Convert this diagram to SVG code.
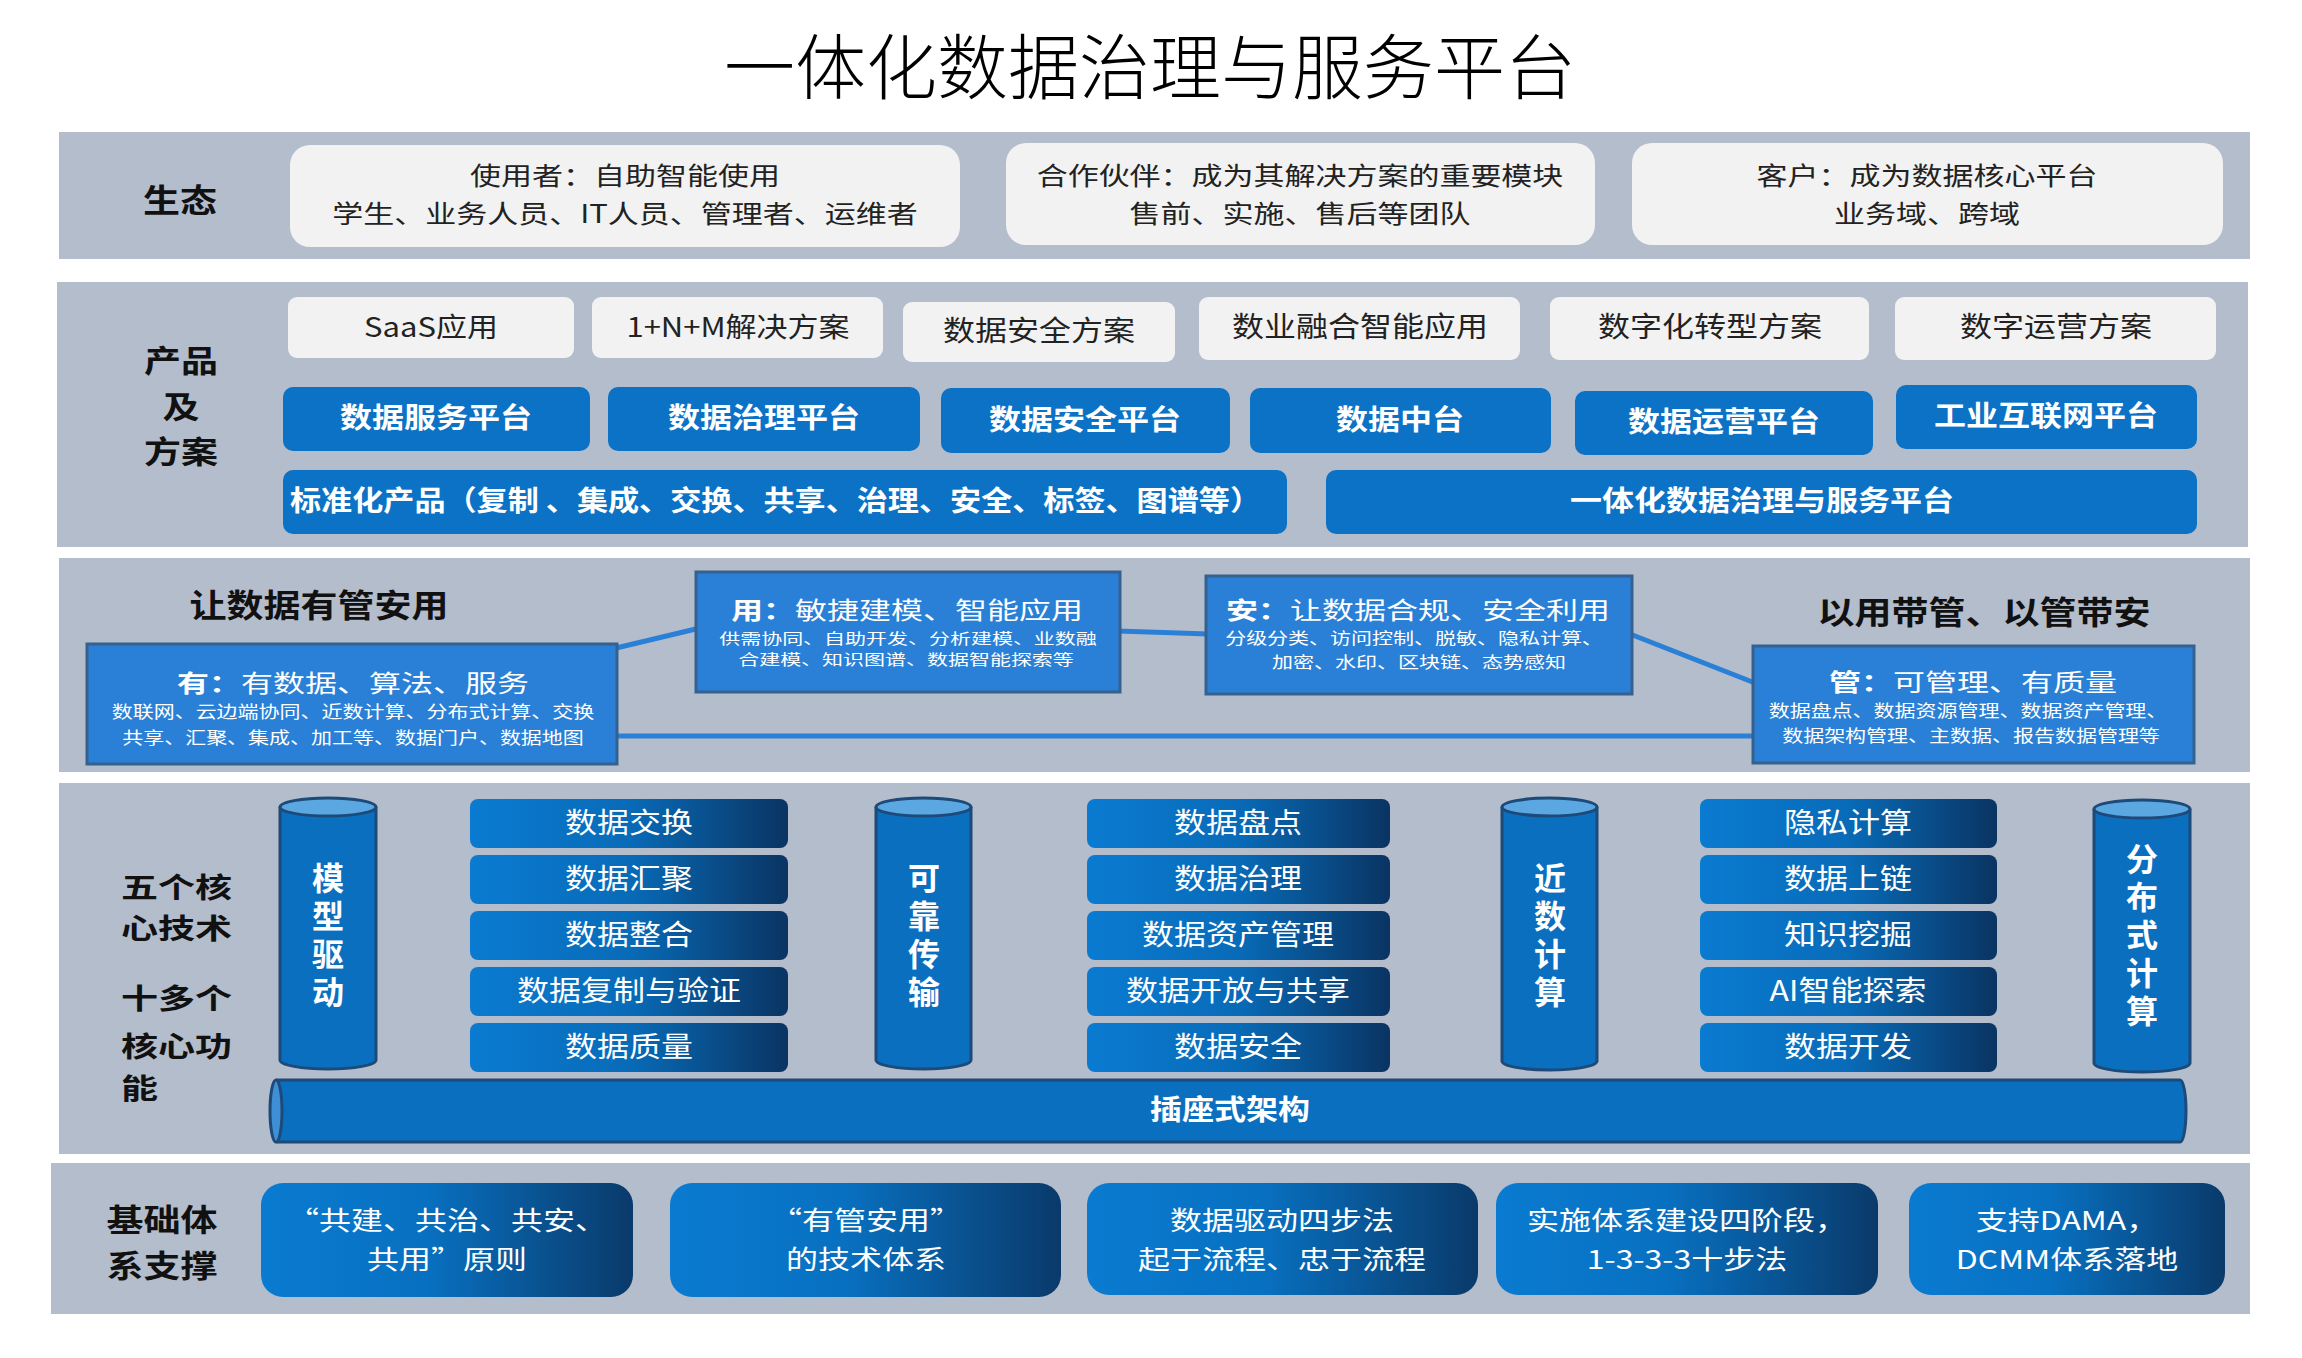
<svg xmlns="http://www.w3.org/2000/svg" width="2302" height="1358" viewBox="0 0 2302 1358">
<defs>
<style>
text{font-family:"Noto Sans CJK SC","Noto Sans",sans-serif;}
.band{fill:#b4bdcc}
.wbox{fill:#f2f2f2}
.bbox{fill:#0b72c6}
.sbox{fill:#2a80d6;stroke:#34618f;stroke-width:3}
.gbox{fill:url(#g1)}
.gbox2{fill:url(#g2)}
.c{text-anchor:middle;dominant-baseline:central}
.lab{font-size:37px;font-weight:700;fill:#111}
.dk{fill:#222}
.wh{fill:#fff}
.conn{stroke:#2a80d6;stroke-width:5;fill:none}
.cyl{fill:#0b6fc0;stroke:#1d4a78;stroke-width:3}
.cyltop{fill:#5aa7e2;stroke:#1d4a78;stroke-width:3}
.vt{writing-mode:vertical-rl;text-anchor:middle;font-size:32px;font-weight:700;fill:#fff;letter-spacing:6px}
.t31{font-size:31px}
.t32{font-size:32px}
.t21{font-size:21px}
.b{font-weight:700}
</style>
<linearGradient id="g1" x1="0" y1="0" x2="1" y2="0">
<stop offset="0" stop-color="#0a7bd1"/>
<stop offset="0.5" stop-color="#086bb8"/>
<stop offset="1" stop-color="#0a3462"/>
</linearGradient>
<linearGradient id="g2" x1="0" y1="0" x2="1" y2="0">
<stop offset="0" stop-color="#0a7bd1"/>
<stop offset="0.45" stop-color="#0870c0"/>
<stop offset="1" stop-color="#0a3a6a"/>
</linearGradient>
</defs>
<rect width="2302" height="1358" fill="#ffffff"/>

<text id="title" x="1150" y="62" class="c" style="font-size:71px;font-weight:300;fill:#000">一体化数据治理与服务平台</text>

<!-- bands -->
<rect class="band" x="59" y="132" width="2191" height="127"/>
<rect class="band" x="57" y="282" width="2191" height="265"/>
<rect class="band" x="59" y="558" width="2191" height="214"/>
<rect class="band" x="59" y="783" width="2191" height="371"/>
<rect class="band" x="51" y="1163" width="2199" height="151"/>

<!-- ecosystem -->
<g id="label-ecosystem"><text transform="translate(180,198) scale(1,0.85)" class="c lab">生态</text></g>
<g id="eco-user">
<rect class="wbox" x="290" y="145" width="670" height="102" rx="20"/>
<text transform="translate(625,174) scale(1,0.82)" class="c t31 dk">使用者：自助智能使用</text>
<text transform="translate(625,212) scale(1,0.82)" class="c t31 dk">学生、业务人员、IT人员、管理者、运维者</text>
</g>
<g id="eco-partner">
<rect class="wbox" x="1006" y="143" width="589" height="102" rx="20"/>
<text transform="translate(1300,174) scale(1,0.82)" class="c t31 dk">合作伙伴：成为其解决方案的重要模块</text>
<text transform="translate(1300,212) scale(1,0.82)" class="c t31 dk">售前、实施、售后等团队</text>
</g>
<g id="eco-customer">
<rect class="wbox" x="1632" y="143" width="591" height="102" rx="20"/>
<text transform="translate(1927,174) scale(1,0.82)" class="c t31 dk">客户：成为数据核心平台</text>
<text transform="translate(1927,212) scale(1,0.82)" class="c t31 dk">业务域、跨域</text>
</g>

<!-- products -->
<g id="label-products">
<text transform="translate(181,359) scale(1,0.82)" class="c lab">产品</text>
<text transform="translate(181,405) scale(1,0.82)" class="c lab">及</text>
<text transform="translate(181,450) scale(1,0.82)" class="c lab">方案</text>
</g>
<g id="p-saas"><rect class="wbox" x="288" y="297" width="286" height="61" rx="9"/><text transform="translate(431,325) scale(1,0.88)" class="c t31 dk">SaaS应用</text></g>
<g id="p-1nm"><rect class="wbox" x="592" y="297" width="291" height="61" rx="9"/><text transform="translate(738,325) scale(1,0.88)" class="c t31 dk">1+N+M解决方案</text></g>
<g id="p-sec"><rect class="wbox" x="903" y="302" width="272" height="60" rx="9"/><text transform="translate(1039,329) scale(1,0.88)" class="c t32 dk">数据安全方案</text></g>
<g id="p-fusion"><rect class="wbox" x="1199" y="297" width="321" height="63" rx="9"/><text transform="translate(1360,325) scale(1,0.88)" class="c t32 dk">数业融合智能应用</text></g>
<g id="p-digital"><rect class="wbox" x="1550" y="297" width="319" height="63" rx="9"/><text transform="translate(1710,325) scale(1,0.88)" class="c t32 dk">数字化转型方案</text></g>
<g id="p-ops"><rect class="wbox" x="1895" y="297" width="321" height="63" rx="9"/><text transform="translate(2056,325) scale(1,0.88)" class="c t32 dk">数字运营方案</text></g>

<g id="pf-service"><rect class="bbox" x="283" y="387" width="307" height="64" rx="10"/><text transform="translate(436,416) scale(1,0.88)" class="c t32 b wh">数据服务平台</text></g>
<g id="pf-govern"><rect class="bbox" x="608" y="387" width="312" height="64" rx="10"/><text transform="translate(764,416) scale(1,0.88)" class="c t32 b wh">数据治理平台</text></g>
<g id="pf-security"><rect class="bbox" x="941" y="388" width="289" height="65" rx="10"/><text transform="translate(1085,418) scale(1,0.88)" class="c t32 b wh">数据安全平台</text></g>
<g id="pf-middle"><rect class="bbox" x="1250" y="388" width="301" height="65" rx="10"/><text transform="translate(1400,418) scale(1,0.88)" class="c t32 b wh">数据中台</text></g>
<g id="pf-operate"><rect class="bbox" x="1575" y="391" width="298" height="64" rx="10"/><text transform="translate(1724,420) scale(1,0.88)" class="c t32 b wh">数据运营平台</text></g>
<g id="pf-iiot"><rect class="bbox" x="1896" y="385" width="301" height="64" rx="10"/><text transform="translate(2046,414) scale(1,0.88)" class="c t32 b wh">工业互联网平台</text></g>

<g id="pf-standard"><rect class="bbox" x="283" y="470" width="1004" height="64" rx="10"/><text transform="translate(290,499) scale(1,0.88)" class="t32 b wh" style="dominant-baseline:central" textLength="971" lengthAdjust="spacingAndGlyphs">标准化产品（复制 、集成、交换、共享、治理、安全、标签、图谱等）</text></g>
<g id="pf-integrated"><rect class="bbox" x="1326" y="470" width="871" height="64" rx="10"/><text transform="translate(1762,499) scale(1,0.88)" class="c t32 b wh">一体化数据治理与服务平台</text></g>

<!-- section 3 -->
<g id="label-slogan1"><text transform="translate(319,603) scale(1,0.85)" class="c lab">让数据有管安用</text></g>
<g id="label-slogan2"><text transform="translate(1984,610) scale(1,0.85)" class="c lab">以用带管、以管带安</text></g>

<g id="connectors">
<line class="conn" x1="612" y1="649" x2="700" y2="628"/>
<line class="conn" x1="1118" y1="631" x2="1208" y2="634"/>
<line class="conn" x1="1630" y1="634" x2="1755" y2="683"/>
<line class="conn" x1="615" y1="736" x2="1755" y2="736"/>
</g>

<g id="n-you">
<rect class="sbox" x="87" y="644" width="530" height="120"/>
<text transform="translate(353,681) scale(1,0.75)" class="c t32 wh"><tspan class="b">有：</tspan>有数据、算法、服务</text>
<text transform="translate(353,710) scale(1,0.8)" class="c t21 wh">数联网、云边端协同、近数计算、分布式计算、交换</text>
<text transform="translate(353,736) scale(1,0.8)" class="c t21 wh">共享、汇聚、集成、加工等、数据门户、数据地图</text>
</g>
<g id="n-yong">
<rect class="sbox" x="696" y="572" width="424" height="120"/>
<text transform="translate(907,608) scale(1,0.75)" class="c t32 wh"><tspan class="b">用：</tspan>敏捷建模、智能应用</text>
<text transform="translate(908,638) scale(1,0.68)" class="c t21 wh">供需协同、自助开发、分析建模、业数融</text>
<text transform="translate(906,659) scale(1,0.68)" class="c t21 wh">合建模、知识图谱、数据智能探索等</text>
</g>
<g id="n-an">
<rect class="sbox" x="1206" y="576" width="426" height="118"/>
<text transform="translate(1418,608) scale(1,0.75)" class="c t32 wh"><tspan class="b">安：</tspan>让数据合规、安全利用</text>
<text transform="translate(1414,637) scale(1,0.75)" class="c t21 wh">分级分类、访问控制、脱敏、隐私计算、</text>
<text transform="translate(1419,661) scale(1,0.75)" class="c t21 wh">加密、水印、区块链、态势感知</text>
</g>
<g id="n-guan">
<rect class="sbox" x="1753" y="646" width="441" height="117"/>
<text transform="translate(1973,680) scale(1,0.75)" class="c t32 wh"><tspan class="b">管：</tspan>可管理、有质量</text>
<text transform="translate(1968,709) scale(1,0.8)" class="c t21 wh">数据盘点、数据资源管理、数据资产管理、</text>
<text transform="translate(1971,734) scale(1,0.8)" class="c t21 wh">数据架构管理、主数据、报告数据管理等</text>
</g>

<!-- section 4 -->
<g id="label-core">
<text transform="translate(121,886) scale(1,0.76)" class="lab" style="dominant-baseline:central">五个核</text>
<text transform="translate(121,927) scale(1,0.76)" class="lab" style="dominant-baseline:central">心技术</text>
<text transform="translate(121,997) scale(1,0.76)" class="lab" style="dominant-baseline:central">十多个</text>
<text transform="translate(121,1045) scale(1,0.76)" class="lab" style="dominant-baseline:central">核心功</text>
<text transform="translate(121,1087) scale(1,0.76)" class="lab" style="dominant-baseline:central">能</text>
</g>

<g id="cyl-model">
<path class="cyl" d="M280,807 V1060 A48,9 0 0 0 376,1060 V807"/>
<ellipse class="cyltop" cx="328" cy="807" rx="48" ry="9"/>
<text x="328" y="938" class="vt">模型驱动</text>
</g>
<g id="cyl-reliable">
<path class="cyl" d="M876,807 V1060 A47.5,9 0 0 0 971,1060 V807"/>
<ellipse class="cyltop" cx="923.5" cy="807" rx="47.5" ry="9"/>
<text x="924" y="938" class="vt">可靠传输</text>
</g>
<g id="cyl-near">
<path class="cyl" d="M1502,807 V1061 A47.5,9 0 0 0 1597,1061 V807"/>
<ellipse class="cyltop" cx="1549.5" cy="807" rx="47.5" ry="9"/>
<text x="1550" y="938" class="vt">近数计算</text>
</g>
<g id="cyl-dist">
<path class="cyl" d="M2094,809 V1063 A48,9 0 0 0 2190,1063 V809"/>
<ellipse class="cyltop" cx="2142" cy="809" rx="48" ry="9"/>
<text x="2142" y="938" class="vt">分布式计算</text>
</g>

<g id="f-exchange"><rect class="gbox" x="470" y="799" width="318" height="49" rx="8"/><text transform="translate(629,820.5) scale(1,0.88)" class="c t32 wh">数据交换</text></g>
<g id="f-aggregate"><rect class="gbox" x="470" y="855" width="318" height="49" rx="8"/><text transform="translate(629,876.5) scale(1,0.88)" class="c t32 wh">数据汇聚</text></g>
<g id="f-integrate"><rect class="gbox" x="470" y="911" width="318" height="49" rx="8"/><text transform="translate(629,932.5) scale(1,0.88)" class="c t32 wh">数据整合</text></g>
<g id="f-replicate"><rect class="gbox" x="470" y="967" width="318" height="49" rx="8"/><text transform="translate(629,988.5) scale(1,0.88)" class="c t32 wh">数据复制与验证</text></g>
<g id="f-quality"><rect class="gbox" x="470" y="1023" width="318" height="49" rx="8"/><text transform="translate(629,1044.5) scale(1,0.88)" class="c t32 wh">数据质量</text></g>

<g id="f-inventory"><rect class="gbox" x="1087" y="799" width="303" height="49" rx="8"/><text transform="translate(1238,820.5) scale(1,0.88)" class="c t32 wh">数据盘点</text></g>
<g id="f-govern"><rect class="gbox" x="1087" y="855" width="303" height="49" rx="8"/><text transform="translate(1238,876.5) scale(1,0.88)" class="c t32 wh">数据治理</text></g>
<g id="f-asset"><rect class="gbox" x="1087" y="911" width="303" height="49" rx="8"/><text transform="translate(1238,932.5) scale(1,0.88)" class="c t32 wh">数据资产管理</text></g>
<g id="f-open"><rect class="gbox" x="1087" y="967" width="303" height="49" rx="8"/><text transform="translate(1238,988.5) scale(1,0.88)" class="c t32 wh">数据开放与共享</text></g>
<g id="f-security"><rect class="gbox" x="1087" y="1023" width="303" height="49" rx="8"/><text transform="translate(1238,1044.5) scale(1,0.88)" class="c t32 wh">数据安全</text></g>

<g id="f-privacy"><rect class="gbox" x="1700" y="799" width="297" height="49" rx="8"/><text transform="translate(1848,820.5) scale(1,0.88)" class="c t32 wh">隐私计算</text></g>
<g id="f-chain"><rect class="gbox" x="1700" y="855" width="297" height="49" rx="8"/><text transform="translate(1848,876.5) scale(1,0.88)" class="c t32 wh">数据上链</text></g>
<g id="f-mining"><rect class="gbox" x="1700" y="911" width="297" height="49" rx="8"/><text transform="translate(1848,932.5) scale(1,0.88)" class="c t32 wh">知识挖掘</text></g>
<g id="f-ai"><rect class="gbox" x="1700" y="967" width="297" height="49" rx="8"/><text transform="translate(1848,988.5) scale(1,0.88)" class="c t32 wh">AI智能探索</text></g>
<g id="f-dev"><rect class="gbox" x="1700" y="1023" width="297" height="49" rx="8"/><text transform="translate(1848,1044.5) scale(1,0.88)" class="c t32 wh">数据开发</text></g>

<g id="plugin-arch">
<path class="cyl" d="M276,1080 H2180 A6,31 0 0 1 2180,1142 H276"/>
<ellipse class="cyltop" cx="276" cy="1111" rx="6" ry="31" style="fill:#3f8fd6"/>
<text transform="translate(1230,1108) scale(1,0.88)" class="c t32 b wh">插座式架构</text>
</g>

<!-- section 5 -->
<g id="label-base">
<text transform="translate(162,1218) scale(1,0.82)" class="c lab">基础体</text>
<text transform="translate(162,1264) scale(1,0.82)" class="c lab">系支撑</text>
</g>
<g id="b-principle"><rect class="gbox2" x="261" y="1183" width="372" height="114" rx="22"/>
<text transform="translate(447,1218) scale(1,0.82)" class="c t32 wh">“共建、共治、共安、</text>
<text transform="translate(447,1257) scale(1,0.82)" class="c t32 wh">共用”原则</text></g>
<g id="b-tech"><rect class="gbox2" x="670" y="1183" width="391" height="114" rx="22"/>
<text transform="translate(866,1218) scale(1,0.82)" class="c t32 wh">“有管安用”</text>
<text transform="translate(866,1257) scale(1,0.82)" class="c t32 wh">的技术体系</text></g>
<g id="b-four"><rect class="gbox2" x="1087" y="1183" width="391" height="112" rx="22"/>
<text transform="translate(1282,1218) scale(1,0.82)" class="c t32 wh">数据驱动四步法</text>
<text transform="translate(1282,1257) scale(1,0.82)" class="c t32 wh">起于流程、忠于流程</text></g>
<g id="b-stage"><rect class="gbox2" x="1496" y="1183" width="382" height="112" rx="22"/>
<text transform="translate(1687,1218) scale(1,0.82)" class="c t32 wh">实施体系建设四阶段，</text>
<text transform="translate(1687,1257) scale(1,0.82)" class="c t32 wh">1-3-3-3十步法</text></g>
<g id="b-dama"><rect class="gbox2" x="1909" y="1183" width="316" height="112" rx="22"/>
<text transform="translate(2067,1218) scale(1,0.82)" class="c t32 wh">支持DAMA，</text>
<text transform="translate(2067,1257) scale(1,0.82)" class="c t32 wh">DCMM体系落地</text></g>
</svg>
